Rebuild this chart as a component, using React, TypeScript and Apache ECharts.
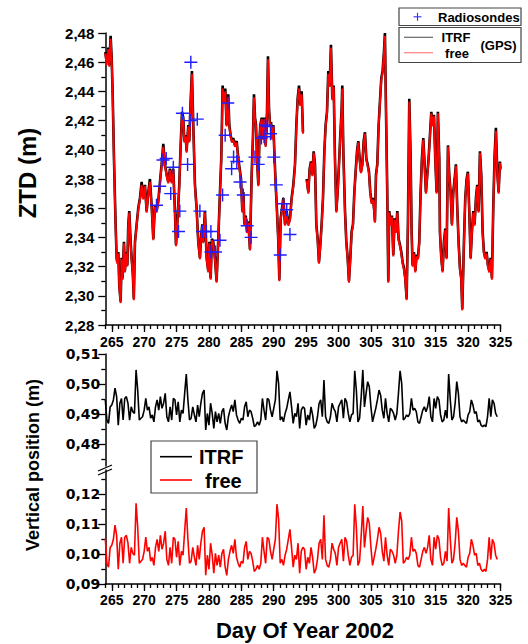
import React, { useEffect, useRef } from "react";
import * as echarts from "echarts";

// ---------- ZTD (top panel) ----------
const ztdDays = [
  264.00,264.21,264.46,264.62,264.82,264.98,265.13,265.34,265.59,265.75,
  265.85,266.01,266.16,266.37,266.52,266.67,266.88,267.03,267.19,267.40,
  267.55,267.70,267.91,268.06,268.25,268.40,268.58,268.84,269.09,269.35,
  269.61,269.86,270.12,270.38,270.64,270.89,271.15,271.41,271.66,271.92,
  272.18,272.44,272.69,272.95,273.21,273.47,273.72,273.98,274.24,274.49,
  274.75,274.91,275.11,275.42,275.63,275.84,276.04,276.19,276.40,276.55,
  276.81,276.96,277.17,277.37,277.58,277.84,278.09,278.35,278.61,278.76,
  278.97,279.12,279.38,279.64,279.90,280.05,280.26,280.46,280.67,280.92,
  281.18,281.44,281.70,281.90,282.11,282.31,282.52,282.72,282.98,283.14,
  283.34,283.55,283.75,
  284.02,284.28,284.53,284.74,284.95,285.15,285.31,285.46,285.67,285.87,
  286.08,286.33,286.59,286.80,286.95,287.11,287.26,287.42,287.62,287.78,
  287.93,288.14,288.34,288.55,288.75,288.96,289.11,289.27,289.42,289.58,
  289.78,289.94,290.09,290.30,290.50,290.71,290.86,291.07,291.22,291.48,
  291.74,291.99,292.25,292.51,292.76,293.02,293.28,293.49,293.69,293.90,
  294.10,294.31,294.51,294.80,295.08,295.34,295.54,295.75,295.96,296.16,
  296.37,296.57,296.78,296.98,297.19,297.39,297.60,297.81,298.01,298.22,
  298.42,298.63,298.83,299.04,299.25,299.45,299.66,299.86,300.07,300.27,
  300.48,300.58,300.74,301.00,301.20,301.41,301.61,301.82,302.02,302.23,
  302.44,302.64,302.85,303.05,303.26,303.46,303.67,303.88,304.08,304.29,
  304.49,304.70,304.90,305.11,305.32,305.52,
  305.62,305.78,305.98,306.19,306.39,306.60,306.80,307.01,307.16,307.32,
  307.52,307.68,307.83,308.04,308.24,308.45,308.66,308.86,309.07,309.27,
  309.48,309.69,309.89,310.10,310.30,310.51,310.71,310.92,311.13,311.28,
  311.43,311.64,311.85,312.05,312.26,312.46,312.67,312.87,313.08,313.29,
  313.49,313.70,313.90,314.11,314.32,314.52,314.73,314.93,315.14,315.34,
  315.55,315.65,315.86,316.06,316.27,316.48,316.68,316.89,317.09,317.30,
  317.50,317.71,317.92,318.12,318.33,318.53,318.74,318.94,319.10,319.36,
  319.56,319.77,319.97,320.18,320.39,320.59,320.80,321.00,321.21,321.41,
  321.62,321.83,322.03,322.24,322.44,322.65,322.85,323.06,323.27,323.47,
  323.68,323.88,324.09,324.29,324.50,324.71,324.91,325.00,
];

const ztdItrf = [
  2.467,2.460,2.470,2.458,2.478,2.463,2.440,2.394,2.349,2.326,
  2.323,2.330,2.307,2.296,2.326,2.312,2.337,2.317,2.330,2.321,
  2.349,2.358,2.337,2.326,2.315,2.298,2.337,2.349,2.360,2.367,
  2.378,2.367,2.376,2.358,2.371,2.380,2.362,2.339,2.362,2.358,
  2.365,2.378,2.390,2.404,2.390,2.383,2.378,2.387,2.378,2.387,
  2.358,2.335,2.349,2.376,2.403,2.426,2.422,2.406,2.410,2.399,
  2.417,2.406,2.433,2.454,2.417,2.376,2.360,2.337,2.326,2.339,
  2.349,2.337,2.358,2.326,2.317,2.337,2.312,2.339,2.337,2.326,
  2.310,2.339,2.371,2.394,2.444,2.433,2.442,2.417,2.438,2.417,
  2.410,2.406,2.408,
  2.403,2.406,2.394,2.387,2.380,2.358,2.371,2.349,2.355,2.344,
  2.351,2.332,2.383,2.410,2.438,2.422,2.417,2.394,2.376,2.406,
  2.417,2.422,2.408,2.422,2.403,2.426,2.464,2.428,2.417,2.419,
  2.408,2.417,2.399,2.376,2.358,2.337,2.311,2.353,2.358,2.367,
  2.349,2.358,2.349,2.353,2.367,2.376,2.390,2.417,2.435,2.444,
  2.431,2.440,2.412,null,2.380,2.371,2.387,2.392,2.383,2.399,
  2.390,2.349,2.339,2.323,2.335,2.349,2.367,2.399,2.417,2.426,
  2.454,2.444,2.472,2.435,2.444,2.394,2.358,2.371,2.390,2.410,
  2.428,2.444,2.399,2.358,2.337,2.326,2.310,2.326,2.344,2.349,
  2.371,2.385,2.399,2.406,2.394,2.385,2.390,2.406,2.412,2.394,
  2.390,2.385,2.371,2.364,2.367,2.358,
  2.351,2.383,2.390,2.417,2.433,2.449,2.454,2.467,2.480,2.429,
  2.371,2.310,2.358,2.349,2.355,2.328,2.353,2.344,2.358,2.339,
  2.335,2.330,2.323,2.319,2.312,2.298,2.349,2.435,2.394,2.344,
  2.321,2.330,2.317,2.328,2.326,2.337,2.371,2.394,2.408,2.390,
  2.371,2.383,2.394,2.410,2.426,2.417,2.424,2.394,2.371,2.426,
  2.394,2.344,2.326,2.317,2.337,2.346,2.326,2.403,2.383,2.371,
  2.349,2.371,2.380,2.390,2.360,2.337,2.319,2.312,2.291,2.337,
  2.367,2.380,2.385,2.358,2.326,2.344,2.358,2.349,2.367,2.376,
  2.358,2.399,2.383,2.344,2.330,2.326,2.330,2.321,2.317,2.326,
  2.312,2.360,2.396,2.415,2.385,2.371,2.392,2.387,
];

const ztdFree = [
  2.466,2.458,2.469,2.457,2.476,2.462,2.439,2.393,2.348,2.325,
  2.322,2.329,2.306,2.295,2.325,2.311,2.336,2.316,2.329,2.320,
  2.348,2.357,2.336,2.325,2.314,2.297,2.336,2.348,2.359,2.366,
  2.376,2.366,2.375,2.357,2.370,2.378,2.361,2.338,2.361,2.357,
  2.364,2.377,2.389,2.402,2.389,2.382,2.377,2.386,2.377,2.386,
  2.357,2.334,2.348,2.375,2.402,2.424,2.421,2.405,2.409,2.398,
  2.416,2.405,2.432,2.452,2.416,2.375,2.359,2.336,2.325,2.338,
  2.348,2.336,2.357,2.325,2.316,2.336,2.311,2.338,2.336,2.325,
  2.309,2.338,2.370,2.393,2.442,2.432,2.440,2.416,2.436,2.416,
  2.409,2.405,2.407,
  2.402,2.405,2.393,2.386,2.379,2.357,2.370,2.348,2.354,2.343,
  2.350,2.331,2.382,2.409,2.436,2.421,2.416,2.393,2.375,2.405,
  2.416,2.421,2.407,2.421,2.402,2.425,2.462,2.427,2.416,2.418,
  2.407,2.416,2.398,2.375,2.357,2.336,2.310,2.352,2.357,2.366,
  2.348,2.357,2.348,2.352,2.366,2.375,2.389,2.416,2.434,2.442,
  2.430,2.438,2.411,null,2.379,2.370,2.386,2.391,2.382,2.398,
  2.389,2.348,2.338,2.322,2.334,2.348,2.366,2.398,2.416,2.425,
  2.452,2.443,2.470,2.434,2.443,2.393,2.357,2.370,2.389,2.409,
  2.427,2.442,2.398,2.357,2.336,2.325,2.309,2.325,2.343,2.348,
  2.370,2.384,2.398,2.405,2.393,2.384,2.389,2.405,2.411,2.393,
  2.389,2.384,2.370,2.363,2.366,2.357,
  2.350,2.382,2.389,2.416,2.432,2.448,2.453,2.466,2.478,2.428,
  2.370,2.309,2.357,2.348,2.354,2.327,2.352,2.343,2.357,2.338,
  2.334,2.329,2.322,2.318,2.311,2.297,2.348,2.433,2.393,2.343,
  2.320,2.329,2.316,2.327,2.325,2.336,2.370,2.393,2.407,2.389,
  2.370,2.382,2.393,2.409,2.425,2.416,2.423,2.393,2.370,2.425,
  2.393,2.343,2.325,2.316,2.336,2.345,2.325,2.402,2.382,2.370,
  2.348,2.370,2.379,2.389,2.359,2.336,2.318,2.311,2.290,2.336,
  2.366,2.379,2.384,2.357,2.325,2.343,2.357,2.348,2.366,2.375,
  2.357,2.398,2.382,2.343,2.329,2.325,2.329,2.320,2.316,2.325,
  2.311,2.359,2.395,2.413,2.384,2.370,2.391,2.386,
];

const sondeDays = [
  271.9,272.4,272.9,273.4,274.1,274.5,275.3,275.5,275.9,276.7,
  277.1,277.2,278.2,278.6,279.0,279.6,280.3,280.3,281.0,281.7,
  282.1,282.5,282.9,283.5,283.8,284.3,284.8,285.3,285.9,286.5,
  287.1,287.6,288.1,288.5,288.7,289.0,289.5,290.0,290.4,291.0,
  291.5,292.0,292.5,
];
const sondeZtd = [
  2.362,2.375,2.393,2.394,2.370,2.388,2.344,2.358,2.425,2.390,
  2.420,2.460,2.421,2.358,2.344,2.344,2.344,2.330,2.330,2.338,
  2.369,2.410,2.432,2.387,2.395,2.392,2.378,2.369,2.348,2.340,
  2.395,2.390,2.408,2.409,2.417,2.416,2.411,2.395,2.376,2.328,
  2.363,2.359,2.342,
];

// ---------- Vertical position (bottom panel), 6-hourly from day 264 ----------
const vpStartDay = 264;
const vpStepDays = 0.25;
const vpItrf = [
  0.4947,0.4880,0.4869,0.4924,0.4930,0.4947,0.4986,0.4958,0.4863,0.4936,
  0.4952,0.4880,0.4952,0.4958,0.4936,0.4880,0.4924,0.4908,0.4902,0.5047,
  0.4980,0.4880,0.4886,0.4891,0.4913,0.4952,0.4913,0.4924,0.4886,0.4897,
  0.4874,0.4924,0.4947,0.4913,0.4958,0.4919,0.4936,0.4969,0.4891,0.4874,
  0.4924,0.4880,0.4952,0.4947,0.4897,0.4941,0.4874,0.4913,0.4902,0.4969,
  0.5033,0.4947,0.4880,0.4886,0.4924,0.4897,0.4874,0.4930,0.4891,0.4936,
  0.4969,0.4980,0.4847,0.4902,0.4863,0.4936,0.4902,0.4852,0.4908,0.4874,
  0.4902,0.4869,0.4908,0.4919,0.4869,0.4847,0.4891,0.4913,0.4930,0.4908,
  0.4947,0.4897,0.4880,0.4869,0.4886,0.4880,0.4924,0.4941,0.4891,0.4913,
  0.4908,0.4886,0.4858,0.4863,0.4874,0.4863,0.4880,0.4952,0.4913,0.4880,
  0.4952,0.4947,0.4913,0.4891,0.4919,0.4947,0.5044,0.5002,0.4880,0.4891,
  0.4874,0.4902,0.4919,0.4947,0.4974,0.4924,0.4869,0.4902,0.4891,0.4936,
  0.4852,0.4913,0.4924,0.4919,0.4863,0.4897,0.4880,0.4924,0.4897,0.4852,
  0.4863,0.4891,0.4936,0.4947,0.4891,0.5013,0.4891,0.4874,0.4869,0.4891,
  0.4936,0.4919,0.4908,0.4874,0.4924,0.4936,0.4947,0.4886,0.4952,0.4941,
  0.4902,0.4874,0.4897,0.4902,0.5044,0.4980,0.4874,0.4886,0.4958,0.5047,
  0.4924,0.4969,0.5008,0.4991,0.4924,0.4874,0.4897,0.4919,0.4947,0.4980,
  0.4963,0.4913,0.4886,0.4952,0.4902,0.4874,0.4919,0.4913,0.4902,0.4880,
  0.4902,0.4969,0.5044,0.5002,0.4880,0.4886,0.4897,0.4891,0.4902,0.4952,
  0.4913,0.4919,0.4908,0.4874,0.4869,0.4891,0.4913,0.4924,0.4908,0.4924,
  0.4958,0.4891,0.4874,0.4952,0.4919,0.4958,0.4947,0.4897,0.4874,0.4880,
  0.4913,0.4886,0.5033,0.4947,0.4880,0.4891,0.4936,0.5008,0.4969,0.4891,
  0.4874,0.4880,0.4874,0.4869,0.4897,0.4908,0.4947,0.4930,0.4902,0.4908,
  0.4874,0.4880,0.4863,0.4858,0.4863,0.4858,0.4891,0.4952,0.4891,0.4947,
  0.4936,0.4902,0.4891,
];
const vpFree = [
  0.1052,0.0969,0.0956,0.1022,0.1029,0.1049,0.1096,0.1062,0.0949,0.1036,
  0.1056,0.0969,0.1056,0.1062,0.1036,0.0969,0.1022,0.1002,0.0996,0.1169,
  0.1089,0.0969,0.0976,0.0982,0.1009,0.1056,0.1009,0.1022,0.0976,0.0989,
  0.0962,0.1022,0.1049,0.1009,0.1062,0.1016,0.1036,0.1076,0.0982,0.0962,
  0.1022,0.0969,0.1056,0.1049,0.0989,0.1042,0.0962,0.1009,0.0996,0.1076,
  0.1153,0.1049,0.0969,0.0976,0.1022,0.0989,0.0962,0.1029,0.0982,0.1036,
  0.1076,0.1089,0.0929,0.0996,0.0949,0.1036,0.0996,0.0936,0.1002,0.0962,
  0.0996,0.0956,0.1002,0.1016,0.0956,0.0929,0.0982,0.1009,0.1029,0.1002,
  0.1049,0.0989,0.0969,0.0956,0.0976,0.0969,0.1022,0.1042,0.0982,0.1009,
  0.1002,0.0976,0.0942,0.0949,0.0962,0.0949,0.0969,0.1056,0.1009,0.0969,
  0.1056,0.1049,0.1009,0.0982,0.1016,0.1049,0.1166,0.1116,0.0969,0.0982,
  0.0962,0.0996,0.1016,0.1049,0.1082,0.1022,0.0956,0.0996,0.0982,0.1036,
  0.0936,0.1009,0.1022,0.1016,0.0949,0.0989,0.0969,0.1022,0.0989,0.0936,
  0.0949,0.0982,0.1036,0.1049,0.0982,0.1129,0.0982,0.0962,0.0956,0.0982,
  0.1036,0.1016,0.1002,0.0962,0.1022,0.1036,0.1049,0.0976,0.1056,0.1042,
  0.0996,0.0962,0.0989,0.0996,0.1166,0.1089,0.0962,0.0976,0.1062,0.1160,
  0.1022,0.1076,0.1122,0.1102,0.1022,0.0962,0.0989,0.1016,0.1049,0.1089,
  0.1069,0.1009,0.0976,0.1056,0.0996,0.0962,0.1016,0.1009,0.0996,0.0969,
  0.0996,0.1076,0.1140,0.1110,0.0969,0.0976,0.0989,0.0982,0.0996,0.1056,
  0.1009,0.1016,0.1002,0.0962,0.0956,0.0982,0.1009,0.1022,0.1002,0.1022,
  0.1062,0.0982,0.0962,0.1056,0.1016,0.1062,0.1049,0.0989,0.0962,0.0969,
  0.1009,0.0976,0.1153,0.1049,0.0969,0.0982,0.1036,0.1122,0.1076,0.0982,
  0.0962,0.0969,0.0962,0.0956,0.0989,0.1002,0.1049,0.1029,0.0996,0.1002,
  0.0962,0.0969,0.0949,0.0942,0.0949,0.0942,0.0982,0.1056,0.0982,0.1049,
  0.1036,0.0996,0.0982,
];

// ---------- tick labels ----------
const dayLabels = [265, 270, 275, 280, 285, 290, 295, 300, 305, 310, 315, 320, 325];
const ztdLabels = [2.28, 2.30, 2.32, 2.34, 2.36, 2.38, 2.40, 2.42, 2.44, 2.46, 2.48];
const ztdMinor = [2.29, 2.31, 2.33, 2.35, 2.37, 2.39, 2.41, 2.43, 2.45, 2.47];
const vpUpperLabels = [0.48, 0.49, 0.50, 0.51];
const vpUpperMinor = [0.475, 0.485, 0.495, 0.505];
const vpLowerLabels = [0.09, 0.10, 0.11, 0.12];
const vpLowerMinor = [0.095, 0.105, 0.115, 0.125];

const FONT = '"Liberation Sans", Arial, Helvetica, sans-serif';
const WIDE = '"DejaVu Sans", Verdana, sans-serif';
const comma = (v: number) => v.toFixed(2).replace(".", ",");

export default function App() {
  const ref = useRef<HTMLDivElement>(null);

  useEffect(() => {
    if (!ref.current) return;
    const chart = echarts.init(ref.current, null, { renderer: "svg" });

    const dayMinor: number[] = [];
    for (let d = 264; d <= 325; d++) dayMinor.push(d);

    const axisLine = { show: true, onZero: false, lineStyle: { color: "#000", width: 1.5 } };
    const tickStyle = { color: "#000", width: 1.3 };

    const xMain = (grid: number, labelMargin: number) => ({
      type: "value", gridIndex: grid, min: 264, max: 325, position: "bottom",
      axisLine,
      axisTick: { show: true, inside: false, length: 7, customValues: dayLabels, lineStyle: tickStyle },
      axisLabel: {
        show: true, customValues: dayLabels, margin: labelMargin, color: "#000",
        fontSize: 14, fontWeight: "bold", fontFamily: FONT, formatter: (v: number) => String(v),
      },
      splitLine: { show: false },
    });
    const xMinor = (grid: number) => ({
      type: "value", gridIndex: grid, min: 264, max: 325, position: "bottom",
      axisLine: { show: false, onZero: false },
      axisTick: { show: true, length: 4, customValues: dayMinor, lineStyle: tickStyle },
      axisLabel: { show: false },
      splitLine: { show: false },
    });
    const yMain = (grid: number, min: number, max: number, labels: number[], font: string, size: number, margin: number) => ({
      type: "value", gridIndex: grid, min, max, position: "left",
      axisLine,
      axisTick: { show: true, length: 7, customValues: labels, lineStyle: tickStyle },
      axisLabel: {
        show: true, customValues: labels, margin, color: "#000",
        fontSize: size, fontWeight: "bold", fontFamily: font, formatter: comma,
      },
      splitLine: { show: false },
    });
    const yMinor = (grid: number, min: number, max: number, ticks: number[]) => ({
      type: "value", gridIndex: grid, min, max, position: "left",
      axisLine: { show: false, onZero: false },
      axisTick: { show: true, length: 4, customValues: ticks, lineStyle: tickStyle },
      axisLabel: { show: false },
      splitLine: { show: false },
    });

    const ztdPairs = (vals: (number | null)[]) =>
      ztdDays.map((d, i) => [d, vals[i] === null ? "-" : vals[i]]);
    const vpPairs = (vals: number[]) => vals.map((v, i) => [vpStartDay + i * vpStepDays, v]);

    const txt = (text: string, x: number, y: number, size: number, extra: any = {}) => ({
      type: "text", x, y, z: 100, ...extra,
      style: {
        text, fontSize: size, fontWeight: "bold", fontFamily: FONT, fill: "#000",
        align: extra.align || "center", verticalAlign: "middle",
      },
    });
    const ln = (x1: number, y1: number, x2: number, y2: number, stroke: string, lineWidth: number) => ({
      type: "line", z: 100, shape: { x1, y1, x2, y2 }, style: { stroke, lineWidth },
    });
    const box = (x: number, y: number, width: number, height: number) => ({
      type: "rect", z: 99, shape: { x, y, width, height },
      style: { fill: "#fff", stroke: "#444", lineWidth: 1.2 },
    });

    const option: any = {
      animation: false,
      backgroundColor: "#fff",
      grid: [
        { left: 105.3, right: 27.5, top: 33, height: 292 },
        { left: 105.3, right: 27.5, top: 354, height: 112 },
        { left: 105.3, right: 27.5, top: 470, height: 114 },
      ],
      xAxis: [
        xMain(0, 10),
        xMinor(0),
        { type: "value", gridIndex: 1, min: 264, max: 325, show: false },
        xMain(2, 9),
        xMinor(2),
      ],
      yAxis: [
        yMain(0, 2.28, 2.48, ztdLabels, FONT, 15, 11),
        yMinor(0, 2.28, 2.48, ztdMinor),
        yMain(1, 0.4727, 0.51, vpUpperLabels, WIDE, 14, 5),
        yMinor(1, 0.4727, 0.51, vpUpperMinor),
        yMain(2, 0.09, 0.128, vpLowerLabels, WIDE, 14, 5),
        yMinor(2, 0.09, 0.128, vpLowerMinor),
      ],
      series: [
        {
          name: "ITRF", type: "line", xAxisIndex: 0, yAxisIndex: 0, data: ztdPairs(ztdItrf),
          symbol: "none", lineStyle: { color: "#000", width: 2.6 }, z: 2,
        },
        {
          name: "free", type: "line", xAxisIndex: 0, yAxisIndex: 0, data: ztdPairs(ztdFree),
          symbol: "none", lineStyle: { color: "#ff0000", width: 2.0 }, z: 3,
        },
        {
          name: "Radiosondes", type: "scatter", xAxisIndex: 0, yAxisIndex: 0,
          data: sondeDays.map((d, i) => [d, sondeZtd[i]]),
          symbol: "path://M0,4.45H10V5.55H0Z M4.45,0H5.55V10H4.45Z", symbolSize: 13,
          itemStyle: { color: "#1e1eff", opacity: 1 }, z: 4,
        },
        {
          name: "ITRF vertical", type: "line", xAxisIndex: 2, yAxisIndex: 2, data: vpPairs(vpItrf),
          symbol: "none", lineStyle: { color: "#000", width: 1.6 },
        },
        {
          name: "free vertical", type: "line", xAxisIndex: 3, yAxisIndex: 4, data: vpPairs(vpFree),
          symbol: "none", lineStyle: { color: "#ff0000", width: 1.6 },
        },
      ],
      graphic: [
        // axis titles
        txt("ZTD (m)", 27, 173, 24, { rotation: Math.PI / 2 }),
        txt("Vertical position (m)", 33, 465, 18, { rotation: Math.PI / 2 }),
        txt("Day Of Year 2002", 305, 630, 22),
        // broken-axis mark
        ln(98, 471, 112, 465, "#000", 1.3),
        ln(98, 475, 112, 469, "#000", 1.3),
        // top legend
        box(399, 8, 122, 17.5),
        ln(413.5, 16.8, 421.5, 16.8, "#3030ff", 1.1),
        ln(417.5, 12.8, 417.5, 20.8, "#3030ff", 1.1),
        txt("Radiosondes", 438, 17, 13, { align: "left" }),
        box(399, 27.5, 122, 35),
        ln(404, 37.3, 433, 37.3, "#666", 1.2),
        ln(404, 52.7, 433, 52.7, "#ff8080", 1.2),
        txt("ITRF", 456, 37.5, 13),
        txt("free", 457, 53, 13),
        txt("(GPS)", 498.5, 45, 13),
        // bottom legend
        box(151, 441, 106, 52),
        ln(160, 456.7, 192, 456.7, "#000", 1.6),
        ln(160, 480, 192, 480, "#ff0000", 1.6),
        txt("ITRF", 199, 457, 20, { align: "left" }),
        txt("free", 205, 480.5, 20, { align: "left" }),
      ],
    };

    chart.setOption(option);
    return () => chart.dispose();
  }, []);

  return (
    <div
      ref={ref}
      style={{ position: "absolute", left: 0, top: 0, width: 528, height: 644, background: "#fff" }}
    />
  );
}
